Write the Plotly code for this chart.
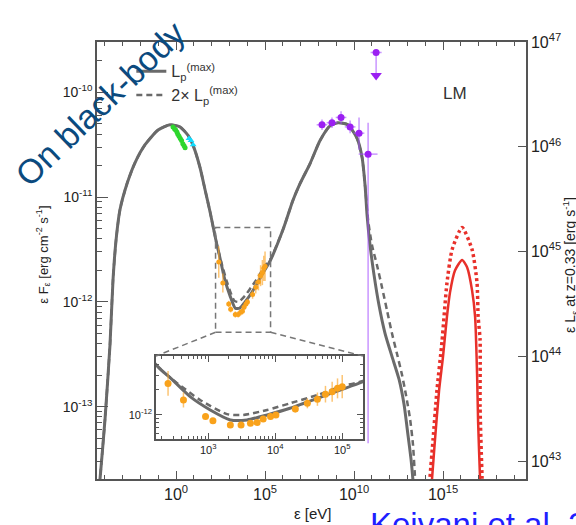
import numpy as np
import plotly.graph_objects as go

FONT = "Liberation Sans, Arial, sans-serif"
AXIS_COLOR = "#555555"
MODEL_COLOR = "#6a6a6a"
NU_COLOR = "#e8302a"

# ---------------------------------------------------------------------------
# Leptohadronic model SED: log10(E / eV) and log10(E F_E / erg cm^-2 s^-1)
# ---------------------------------------------------------------------------
MODEL_LOGE = [-4.35, -4.27, -3.99, -3.71, -3.54, -3.37, -3.15, -2.75, -2.30, -1.74,
              -1.01, -0.34, 0.22, 0.67, 1.01, 1.35, 1.63, 1.91, 2.30, 2.43,
              2.73, 3.03, 3.33, 3.58, 3.88, 4.22, 4.63, 4.97, 5.31, 6.01,
              6.57, 6.97, 7.53, 8.09, 8.65, 9.10, 9.66, 10.17, 10.45, 10.62,
              10.73, 10.90, 11.12, 11.40, 11.74, 12.13, 12.53, 12.81, 13.03, 13.20,
              13.31, 13.37]
MODEL_LOGF = [-13.84, -13.69, -13.12, -12.41, -11.79, -11.41, -11.12, -10.87, -10.67, -10.50,
              -10.36, -10.31, -10.33, -10.41, -10.53, -10.72, -10.93, -11.14, -11.46, -11.55,
              -11.78, -11.94, -12.06, -12.06, -12.00, -11.92, -11.80, -11.70, -11.60, -11.31,
              -11.03, -10.87, -10.68, -10.46, -10.32, -10.29, -10.31, -10.44, -10.62, -10.89,
              -11.17, -11.46, -11.74, -12.03, -12.30, -12.52, -12.74, -12.98, -13.27, -13.50,
              -13.70, -13.84]

# Same model with twice the maximal proton luminosity
MODEL2_LOGE = [-4.35, -4.27, -3.99, -3.71, -3.54, -3.37, -3.15, -2.75, -2.30, -1.74,
               -1.01, -0.34, 0.22, 0.67, 1.01, 1.35, 1.63, 1.91, 2.30, 2.54,
               2.88, 3.28, 3.52, 3.88, 4.22, 4.63, 4.97, 5.31, 6.01, 6.57,
               6.97, 7.53, 8.09, 8.65, 9.10, 9.66, 10.17, 10.45, 10.62, 10.79,
               11.01, 11.29, 11.57, 11.85, 12.13, 12.42, 12.70, 12.92, 13.15, 13.31,
               13.43, 13.48]
MODEL2_LOGF = [-13.84, -13.69, -13.12, -12.41, -11.79, -11.41, -11.12, -10.87, -10.67, -10.50,
               -10.36, -10.31, -10.33, -10.41, -10.53, -10.72, -10.93, -11.14, -11.46, -11.62,
               -11.82, -11.99, -12.00, -11.94, -11.86, -11.76, -11.66, -11.59, -11.31, -11.03,
               -10.87, -10.68, -10.46, -10.32, -10.29, -10.31, -10.44, -10.62, -10.89, -11.22,
               -11.46, -11.65, -11.86, -12.08, -12.30, -12.50, -12.70, -12.89, -13.12, -13.36,
               -13.69, -13.84]

# Neutrino spectra (all flavours) for the two proton luminosities
NU_LOGE = [14.30, 14.38, 14.55, 14.78, 15.00, 15.22, 15.39, 15.67, 16.07, 16.35,
           16.63, 16.80, 16.91, 16.97, 17.08, 17.12]
NU_LOGF = [-13.84, -13.69, -13.31, -12.84, -12.52, -12.14, -11.91, -11.70, -11.60, -11.67,
           -11.89, -12.14, -12.68, -13.15, -13.69, -13.84]
NU2_LOGE = [14.22, 14.27, 14.44, 14.66, 14.94, 15.22, 15.51, 16.07, 16.63, 16.91,
            16.97, 17.08, 17.08, 17.19, 17.22]
NU2_LOGF = [-13.84, -13.67, -13.31, -12.84, -12.38, -11.82, -11.50, -11.29, -11.50, -11.82,
            -12.14, -12.36, -13.00, -13.67, -13.84]

# ---------------------------------------------------------------------------
# Observations
# ---------------------------------------------------------------------------
OPT_LOGE = [-0.17, -0.08, -0.02, 0.05, 0.10, 0.17, 0.24, 0.31, 0.38, 0.45, 0.51]
OPT_LOGF = [-10.33, -10.35, -10.36, -10.38, -10.40, -10.42, -10.44, -10.46, -10.49, -10.51, -10.53]
UV_LOGE = [0.73, 0.84, 0.96]
UV_LOGF = [-10.44, -10.46, -10.50]

XRAY_LOGE = [2.40, 2.63, 2.96, 3.07, 3.33, 3.49, 3.63, 3.73, 3.82, 3.93,
             4.01, 4.30, 4.48, 4.63, 4.75, 4.85, 4.93, 5.00]
XRAY_LOGF = [-11.62, -11.82, -12.02, -12.07, -12.12, -12.12, -12.10, -12.09, -12.05, -12.02,
             -12.00, -11.93, -11.86, -11.81, -11.75, -11.72, -11.68, -11.66]
XRAY_ERR = [0.15, 0.09, 0.03, 0.03, 0.03, 0.03, 0.03, 0.03, 0.03, 0.03,
            0.03, 0.04, 0.06, 0.08, 0.10, 0.12, 0.12, 0.14]

GAMMA_LOGE = [8.20, 8.76, 9.27, 9.78, 10.28, 10.79]
GAMMA_LOGF = [-10.31, -10.29, -10.24, -10.33, -10.39, -10.59]
GAMMA_XERR = [0.30, 0.30, 0.30, 0.30, 0.30, 0.53]
GAMMA_YUP = [0.05, 0.05, 0.06, 0.06, 0.15, 0.30]
GAMMA_YDN = [0.05, 0.05, 0.06, 0.06, 0.16, 2.76]

UL_LOGE = [11.24]
UL_LOGF = [-9.62]
UL_XERR = [0.31]
UL_ARROW_LOGF = [-9.84]

# ---------------------------------------------------------------------------
# Axes
# ---------------------------------------------------------------------------
X_RANGE = [-4.44, 19.66]
Y_RANGE = [-13.69, -9.52]
LUM_OFFSET = 56.52          # log10(4 pi d_L^2) at z = 0.33
X_TICKS = [0, 5, 10, 15]
Y_TICKS = [-13, -12, -11, -10]
Y2_TICKS = [43, 44, 45, 46, 47]

INSET_X_RANGE = [2.22, 5.31]
INSET_Y_RANGE = [-12.29, -11.29]
INSET_X_TICKS = [3, 4, 5]
INSET_Y_TICKS = [-12]
INSET_DOMAIN_X = [0.1375, 0.620]
INSET_DOMAIN_Y = [0.0915, 0.2815]


def p10(a):
    return np.power(10.0, np.asarray(a, dtype=float))


def sup_labels(exps):
    return ["10<sup>%d</sup>" % e for e in exps]


def minor_vals(lo, hi):
    return [k * 10.0 ** e for e in range(int(np.floor(lo)) - 1, int(np.ceil(hi)) + 1)
            for k in range(2, 10)]


fig = go.Figure()


def add_model(xa, ya, show):
    fig.add_trace(go.Scatter(
        x=p10(MODEL_LOGE), y=p10(MODEL_LOGF), mode="lines", xaxis=xa, yaxis=ya,
        line=dict(color=MODEL_COLOR, width=3, shape="spline", smoothing=0.6),
        name="L<sub>p</sub><sup>(max)</sup>", showlegend=show))
    fig.add_trace(go.Scatter(
        x=p10(MODEL2_LOGE), y=p10(MODEL2_LOGF), mode="lines", xaxis=xa, yaxis=ya,
        line=dict(color=MODEL_COLOR, width=2.5, dash="6px,4px", shape="spline", smoothing=0.6),
        name="2\u00d7 L<sub>p</sub><sup>(max)</sup>", showlegend=show))


def add_xray(xa, ya, size):
    lf = np.asarray(XRAY_LOGF)
    er = np.asarray(XRAY_ERR)
    fig.add_trace(go.Scatter(
        x=p10(XRAY_LOGE), y=p10(lf), mode="markers", xaxis=xa, yaxis=ya, showlegend=False,
        marker=dict(color="#f9a21b", size=size),
        error_y=dict(type="data", symmetric=False,
                     array=p10(lf + er) - p10(lf), arrayminus=p10(lf) - p10(lf - er),
                     color="rgba(250,165,40,0.65)", thickness=1.5, width=0)))


# main panel: model curves
add_model("x", "y", True)

# neutrino bumps, drawn against the luminosity axis
fig.add_trace(go.Scatter(x=p10(NU_LOGE), y=p10(np.asarray(NU_LOGF) + LUM_OFFSET),
                         mode="lines", yaxis="y2", showlegend=False,
                         line=dict(color=NU_COLOR, width=2.5, shape="spline", smoothing=0.6)))
fig.add_trace(go.Scatter(x=p10(NU2_LOGE), y=p10(np.asarray(NU2_LOGF) + LUM_OFFSET),
                         mode="lines", yaxis="y2", showlegend=False,
                         line=dict(color=NU_COLOR, width=3.5, dash="3px,3px",
                                   shape="spline", smoothing=0.6)))

# optical / UV
fig.add_trace(go.Scatter(x=p10(OPT_LOGE), y=p10(OPT_LOGF), mode="markers", showlegend=False,
                         marker=dict(color="#2ed62e", size=5)))
fig.add_trace(go.Scatter(x=p10(UV_LOGE), y=p10(UV_LOGF), mode="markers", showlegend=False,
                         marker=dict(color="#12dcff", size=6, symbol="triangle-up")))

# X-rays
add_xray("x", "y", 5)

# gamma rays
gl = np.asarray(GAMMA_LOGE)
gf = np.asarray(GAMMA_LOGF)
gx = np.asarray(GAMMA_XERR)
fig.add_trace(go.Scatter(
    x=p10(gl), y=p10(gf), mode="markers", showlegend=False,
    marker=dict(color="#9b1ff2", size=7),
    error_x=dict(type="data", symmetric=False, array=p10(gl + gx) - p10(gl),
                 arrayminus=p10(gl) - p10(gl - gx), color="rgba(165,80,255,0.6)",
                 thickness=1.5, width=0),
    error_y=dict(type="data", symmetric=False,
                 array=p10(gf + np.asarray(GAMMA_YUP)) - p10(gf),
                 arrayminus=p10(gf) - p10(gf - np.asarray(GAMMA_YDN)),
                 color="rgba(165,80,255,0.6)", thickness=1.5, width=0)))

# gamma-ray upper limit
ul = np.asarray(UL_LOGE)
fig.add_trace(go.Scatter(
    x=p10([UL_LOGE[0], UL_LOGE[0]]), y=p10([UL_LOGF[0], UL_ARROW_LOGF[0]]), mode="lines",
    showlegend=False, line=dict(color="rgba(165,80,255,0.6)", width=1.5)))
fig.add_trace(go.Scatter(
    x=p10(UL_LOGE), y=p10(UL_ARROW_LOGF), mode="markers", showlegend=False,
    marker=dict(color="#9b1ff2", size=10, symbol="triangle-down")))
fig.add_trace(go.Scatter(
    x=p10(UL_LOGE), y=p10(UL_LOGF), mode="markers", showlegend=False,
    marker=dict(color="#9b1ff2", size=7),
    error_x=dict(type="data", symmetric=False,
                 array=p10(ul + np.asarray(UL_XERR)) - p10(ul),
                 arrayminus=p10(ul) - p10(ul - np.asarray(UL_XERR)),
                 color="rgba(165,80,255,0.6)", thickness=1.5, width=0)))

# inset: zoom on the X-ray band
add_model("x3", "y3", False)
add_xray("x3", "y3", 7)

# ---------------------------------------------------------------------------
# Layout
# ---------------------------------------------------------------------------
W, H = 576, 525
M = dict(l=97, r=50, t=42, b=46)

axis_common = dict(type="log", showgrid=False, zeroline=False, showline=True,
                   linecolor=AXIS_COLOR, linewidth=1.5, ticks="inside",
                   tickcolor=AXIS_COLOR, tickwidth=1.2)

fig.update_layout(
    width=W, height=H, margin=M, autosize=False,
    paper_bgcolor="white", plot_bgcolor="white",
    font=dict(family=FONT, color="#222222"),
    xaxis=dict(axis_common, range=X_RANGE, mirror="ticks", ticklen=8,
               tickvals=list(p10(X_TICKS)), ticktext=sup_labels(X_TICKS),
               tickfont=dict(size=16),
               minor=dict(tickvals=list(p10(range(-4, 20))), ticks="inside", ticklen=4,
                          tickcolor=AXIS_COLOR, tickwidth=1.2)),
    yaxis=dict(axis_common, range=Y_RANGE, ticklen=11,
               tickvals=list(p10(Y_TICKS)), ticktext=sup_labels(Y_TICKS),
               tickfont=dict(size=14),
               minor=dict(tickvals=minor_vals(*Y_RANGE), ticks="inside", ticklen=5,
                          tickcolor=AXIS_COLOR, tickwidth=1.2)),
    yaxis2=dict(axis_common, overlaying="y", side="right", anchor="x",
                range=[Y_RANGE[0] + LUM_OFFSET, Y_RANGE[1] + LUM_OFFSET], ticklen=8,
                tickvals=list(p10(Y2_TICKS)), ticktext=sup_labels(Y2_TICKS),
                tickfont=dict(size=16)),
    xaxis3=dict(axis_common, domain=INSET_DOMAIN_X, anchor="y3", range=INSET_X_RANGE,
                mirror="ticks", ticklen=6, linewidth=1.5,
                tickvals=list(p10(INSET_X_TICKS)), ticktext=sup_labels(INSET_X_TICKS),
                tickfont=dict(size=11),
                minor=dict(tickvals=minor_vals(*INSET_X_RANGE), ticks="inside", ticklen=3,
                           tickcolor=AXIS_COLOR, tickwidth=1)),
    yaxis3=dict(axis_common, domain=INSET_DOMAIN_Y, anchor="x3", range=INSET_Y_RANGE,
                mirror="ticks", ticklen=6, linewidth=1.5,
                tickvals=list(p10(INSET_Y_TICKS)), ticktext=sup_labels(INSET_Y_TICKS),
                tickfont=dict(size=11),
                minor=dict(tickvals=minor_vals(*INSET_Y_RANGE), ticks="inside", ticklen=3,
                           tickcolor=AXIS_COLOR, tickwidth=1)),
    legend=dict(x=0.08, y=0.972, xanchor="left", yanchor="top",
                bgcolor="rgba(0,0,0,0)", font=dict(size=16, color="#333333"),
                tracegroupgap=0, itemwidth=30),
)


# zoom box on the main panel and its connectors to the inset (paper coordinates)
def px(lx):
    return (lx - X_RANGE[0]) / (X_RANGE[1] - X_RANGE[0])


def py(ly):
    return (ly - Y_RANGE[0]) / (Y_RANGE[1] - Y_RANGE[0])


box_style = dict(color="#777777", width=1.5, dash="6px,4px")
bx0, bx1 = px(INSET_X_RANGE[0]), px(INSET_X_RANGE[1])
by0, by1 = py(INSET_Y_RANGE[0]), py(INSET_Y_RANGE[1])
fig.add_shape(type="rect", xref="paper", yref="paper", x0=bx0, x1=bx1, y0=by0, y1=by1,
              line=box_style)
fig.add_shape(type="line", xref="paper", yref="paper", x0=bx0, y0=by0,
              x1=INSET_DOMAIN_X[0], y1=INSET_DOMAIN_Y[1], line=box_style)
fig.add_shape(type="line", xref="paper", yref="paper", x0=bx1, y0=by0,
              x1=INSET_DOMAIN_X[1], y1=INSET_DOMAIN_Y[1], line=box_style)

# texts
centered = dict(xref="paper", yref="paper", xanchor="center", yanchor="middle",
                showarrow=False)
fig.add_annotation(text="LM", x=0.8345, y=0.883,
                   font=dict(size=17, color="#333333"), **centered)
fig.add_annotation(text="\u03b5 [eV]", x=0.5035, y=-0.078,
                   font=dict(size=15, color="#222222"), **centered)
fig.add_annotation(text="\u03b5 F<sub>\u03b5</sub> [erg cm<sup>-2</sup> s<sup>-1</sup>]",
                   x=-0.126, y=0.513, textangle=-90,
                   font=dict(size=13, color="#222222"), **centered)
fig.add_annotation(text="\u03b5 L<sub>\u03b5</sub> at z=0.33 [erg s<sup>-1</sup>]",
                   x=1.1026, y=0.49, textangle=-90,
                   font=dict(size=14, color="#222222"), **centered)
fig.add_annotation(text="On black-body", x=0.007, y=0.857, textangle=-44,
                   font=dict(size=34, color="#0b4a7e"), **centered)
fig.add_annotation(text="Keivani et al. 2018", xref="paper", yref="paper",
                   x=0.6317, y=-0.058, xanchor="left", yanchor="top", showarrow=False,
                   font=dict(size=33, color="#1f1fff"))

fig.write_html("out.html")
